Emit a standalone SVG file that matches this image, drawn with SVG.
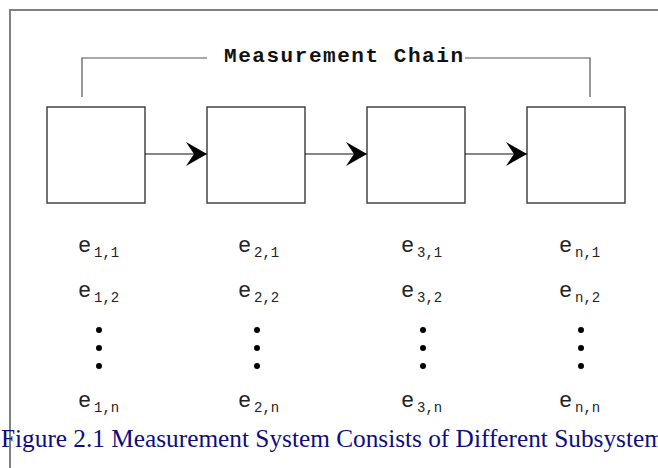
<svg xmlns="http://www.w3.org/2000/svg" width="658" height="468" viewBox="0 0 658 468">
<defs>
<marker id="arr" markerUnits="userSpaceOnUse" markerWidth="24" markerHeight="26" refX="21" refY="12" orient="auto">
<path d="M0,0 L21,12 L0,24 L8,12 Z" fill="#000"/>
</marker>
<style>
.frame{fill:none;stroke:#808080;stroke-width:2}
.box{fill:#fff;stroke:#444;stroke-width:1.5}
.br{fill:none;stroke:#555;stroke-width:1.2}
.con{fill:none;stroke:#111;stroke-width:1.2}
.title{font-family:"Liberation Mono",monospace;font-weight:bold;font-size:21px;fill:#111}
.e{font-family:"Liberation Mono",monospace;font-size:22px;fill:#222}
.s{font-family:"Liberation Mono",monospace;font-size:14px;fill:#222}
.dot{fill:#000}
.cap{font-family:"Liberation Serif",serif;font-size:25.3px;fill:#0d0d80}
</style>
</defs>
<rect width="658" height="468" fill="#fff"/>
<path class="frame" d="M10,468 V10 H658"/>
<g id="chain-label">
<path class="br" d="M82,97 V58 H207"/>
<path class="br" d="M465,58 H590 V97"/>
<text class="title" x="224" y="62" textLength="239" lengthAdjust="spacing">Measurement Chain</text>
</g>
<g id="node1"><rect class="box" x="47" y="107" width="98" height="96"/></g>
<g id="node2"><rect class="box" x="207" y="107" width="98" height="96"/></g>
<g id="node3"><rect class="box" x="367" y="107" width="98" height="96"/></g>
<g id="node4"><rect class="box" x="527" y="107" width="98" height="96"/></g>
<g id="connectors">
<line class="con" x1="145" y1="154" x2="207" y2="154" marker-end="url(#arr)"/>
<line class="con" x1="305" y1="154" x2="367" y2="154" marker-end="url(#arr)"/>
<line class="con" x1="465" y1="154" x2="527" y2="154" marker-end="url(#arr)"/>
</g>
<g id="errors1">
<text class="e" x="78" y="252">e</text><text class="s" x="94" y="257">1,1</text>
<text class="e" x="78" y="297">e</text><text class="s" x="94" y="302">1,2</text>
<circle class="dot" cx="99" cy="330" r="3"/><circle class="dot" cx="99" cy="348" r="3"/><circle class="dot" cx="99" cy="366" r="3"/>
<text class="e" x="78" y="407">e</text><text class="s" x="94" y="412">1,n</text>
</g>
<g id="errors2">
<text class="e" x="238" y="252">e</text><text class="s" x="254" y="257">2,1</text>
<text class="e" x="238" y="297">e</text><text class="s" x="254" y="302">2,2</text>
<circle class="dot" cx="257" cy="330" r="3"/><circle class="dot" cx="257" cy="348" r="3"/><circle class="dot" cx="257" cy="366" r="3"/>
<text class="e" x="238" y="407">e</text><text class="s" x="254" y="412">2,n</text>
</g>
<g id="errors3">
<text class="e" x="401" y="252">e</text><text class="s" x="417" y="257">3,1</text>
<text class="e" x="401" y="297">e</text><text class="s" x="417" y="302">3,2</text>
<circle class="dot" cx="423" cy="330" r="3"/><circle class="dot" cx="423" cy="348" r="3"/><circle class="dot" cx="423" cy="366" r="3"/>
<text class="e" x="401" y="407">e</text><text class="s" x="417" y="412">3,n</text>
</g>
<g id="errorsn">
<text class="e" x="559" y="252">e</text><text class="s" x="575" y="257">n,1</text>
<text class="e" x="559" y="297">e</text><text class="s" x="575" y="302">n,2</text>
<circle class="dot" cx="581" cy="330" r="3"/><circle class="dot" cx="581" cy="348" r="3"/><circle class="dot" cx="581" cy="366" r="3"/>
<text class="e" x="559" y="407">e</text><text class="s" x="575" y="412">n,n</text>
</g>
<text class="cap" x="1" y="447">Figure 2.1 Measurement System Consists of Different Subsystem</text>
</svg>
